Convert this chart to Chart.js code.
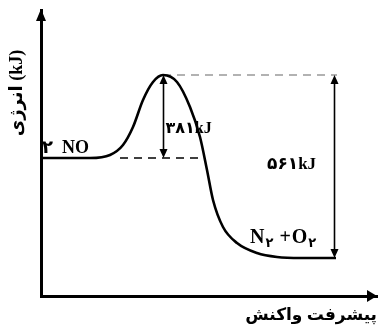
<!DOCTYPE html>
<html>
<head>
<meta charset="utf-8">
<script src="https://cdn.jsdelivr.net/npm/chart.js@4"></script>
<style>
  html, body { margin: 0; padding: 0; background: #fff; }
  #wrap { width: 378px; height: 326px; position: relative; }
</style>
</head>
<body>
<div id="wrap"><canvas id="energyChart"></canvas></div>
<script>
// reaction progress (x) and energy (y), arbitrary units
const curveX = [0, 49, 69, 82, 92, 102, 112, 122, 136, 149, 159, 166, 172, 182, 196, 216, 236, 260, 295];
const curveY = [138, 138, 141, 151, 169, 196, 214, 221, 214, 189, 159, 126, 96, 69, 53, 43, 39, 38, 38];

// energy levels
const levelReactant = 138;   // 2NO
const levelPeak = 221;       // transition state
const levelProduct = 38;     // N2 + O2
const peakX = 122;
const deltaX = 293;

// labels
const yTitle = 'انرژی (kJ)';
const xTitle = 'پیشرفت واکنش';
const activationLabel = '۳۸۱kJ';
const deltaLabel = '۵۶۱kJ';

const fontFam = '"Liberation Serif", "DejaVu Sans", serif';

function arrowHead(ctx, x, y, dir, len, half) {
    // dir: 'up', 'down', 'right'
    ctx.beginPath();
    if (dir === 'up') {
        ctx.moveTo(x, y); ctx.lineTo(x - half, y + len); ctx.lineTo(x + half, y + len);
    } else if (dir === 'down') {
        ctx.moveTo(x, y); ctx.lineTo(x - half, y - len); ctx.lineTo(x + half, y - len);
    } else {
        ctx.moveTo(x, y); ctx.lineTo(x - len, y - half); ctx.lineTo(x - len, y + half);
    }
    ctx.closePath();
    ctx.fill();
}

function doubleArrow(ctx, x, y1, y2) {
    ctx.beginPath();
    ctx.moveTo(x, y1 + 4);
    ctx.lineTo(x, y2 - 4);
    ctx.stroke();
    arrowHead(ctx, x, y1, 'up', 9, 4);
    arrowHead(ctx, x, y2, 'down', 9, 4);
}

const annotations = {
    id: 'annotations',
    afterDraw(chart) {
        const ctx = chart.ctx;
        const xs = chart.scales.x, ys = chart.scales.y;
        const area = chart.chartArea;
        ctx.save();
        ctx.fillStyle = '#000';
        ctx.strokeStyle = '#000';

        // axis arrow heads
        arrowHead(ctx, area.left, area.top - 1, 'up', 12, 5);
        arrowHead(ctx, area.right, area.bottom, 'right', 10, 6);

        // y axis title, rotated, sitting in the upper half
        ctx.save();
        ctx.translate(17, 93);
        ctx.rotate(-Math.PI / 2);
        ctx.textAlign = 'center';
        ctx.textBaseline = 'middle';
        ctx.font = 'bold 18px ' + fontFam;
        ctx.fillText(yTitle, 0, 0);
        ctx.restore();

        // double arrows
        ctx.lineWidth = 1.6;
        const px1 = Math.round(xs.getPixelForValue(peakX)) + 0.5;
        doubleArrow(ctx, px1, ys.getPixelForValue(levelPeak), ys.getPixelForValue(levelReactant));
        const px2 = Math.round(xs.getPixelForValue(deltaX)) + 0.5;
        doubleArrow(ctx, px2, ys.getPixelForValue(levelPeak), ys.getPixelForValue(levelProduct));

        ctx.textBaseline = 'alphabetic';
        ctx.textAlign = 'left';

        // 2 NO
        ctx.font = 'bold 18px ' + fontFam;
        ctx.fillText('۲  NO', xs.getPixelForValue(1), ys.getPixelForValue(levelReactant) - 5);

        // 381 kJ
        ctx.font = 'bold 16px ' + fontFam;
        ctx.fillText(activationLabel, px1 + 2, ys.getPixelForValue(levelReactant) - 25);

        // 561 kJ
        ctx.font = 'bold 17px ' + fontFam;
        ctx.fillText(deltaLabel, xs.getPixelForValue(226), ys.getPixelForValue(levelProduct) - 89);

        // N2 + O2 with subscripts
        let tx = xs.getPixelForValue(209);
        const ty = ys.getPixelForValue(levelProduct) - 15;
        const parts = [['N', 20, 0], ['۲', 13, 4], [' +', 20, 0], ['O', 20, 0], ['۲', 13, 4]];
        parts.forEach(p => {
            ctx.font = 'bold ' + p[1] + 'px ' + fontFam;
            ctx.fillText(p[0], tx, ty + p[2]);
            tx += ctx.measureText(p[0]).width + 1;
        });
        ctx.restore();
    }
};

const ctx = document.getElementById('energyChart').getContext('2d');

new Chart(ctx, {
    type: 'line',
    data: {
        datasets: [
            {
                data: curveX.map((x, i) => ({ x: x, y: curveY[i] })),
                borderColor: '#000',
                borderWidth: 2.6,
                pointRadius: 0,
                cubicInterpolationMode: 'monotone'
            },
            {
                data: [{ x: 79, y: levelReactant }, { x: 160, y: levelReactant }],
                borderColor: '#000',
                borderWidth: 1.6,
                borderDash: [8, 6],
                pointRadius: 0
            },
            {
                data: [{ x: peakX, y: levelPeak }, { x: 296, y: levelPeak }],
                borderColor: '#999',
                borderWidth: 1.5,
                borderDash: [8, 6],
                pointRadius: 0
            }
        ]
    },
    options: {
        responsive: true,
        maintainAspectRatio: false,
        animation: false,
        layout: { padding: { top: 10, right: 1, left: 0, bottom: 0 } },
        plugins: {
            legend: { display: false },
            tooltip: { enabled: false }
        },
        scales: {
            x: {
                type: 'linear',
                min: 0,
                max: 336,
                grid: { display: false },
                border: { display: true, color: '#000', width: 3 },
                ticks: { display: false },
                title: {
                    display: true,
                    text: xTitle,
                    align: 'end',
                    color: '#000',
                    font: { family: fontFam, size: 17, weight: 'bold' },
                    padding: { top: 3, bottom: 0 }
                },
                afterFit: s => { s.height = 30; }
            },
            y: {
                type: 'linear',
                min: 0,
                max: 286,
                grid: { display: false },
                border: { display: true, color: '#000', width: 3 },
                ticks: { display: false },
                title: { display: false },
                afterFit: s => { s.width = 41; }
            }
        }
    },
    plugins: [annotations]
});
</script>
</body>
</html>
